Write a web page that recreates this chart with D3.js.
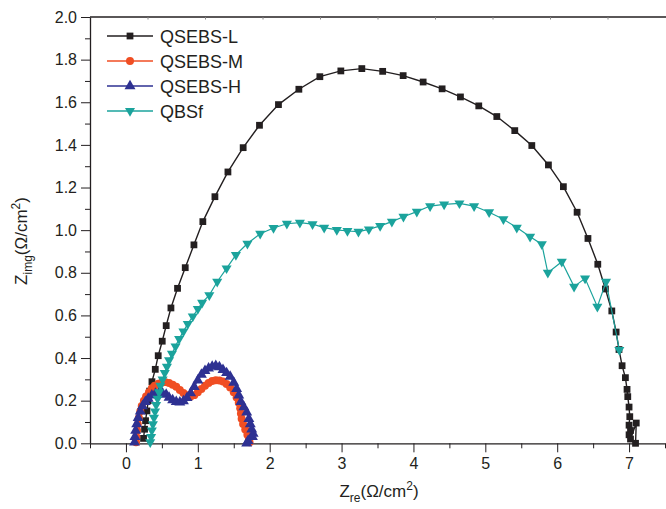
<!DOCTYPE html>
<html>
<head>
<meta charset="utf-8">
<script src="https://cdn.jsdelivr.net/npm/d3@7"></script>
<style>
    body { margin: 0; background: #fff; }
    svg { display: block; font-family: "Liberation Sans", Arial, sans-serif; }
</style>
</head>
<body>
<svg id="chart" width="666" height="509"></svg>
<script>
// series names / colours
const seriesNames = ["QSEBS-L", "QSEBS-M", "QSEBS-H", "QBSf"]
const seriesColors = ["#231f20", "#f04e23", "#2e3192", "#1ba39c"]

// values, [Zre, Zimg]
const qsebsL = [
    [0.245, 0.023], [0.259, 0.066], [0.273, 0.106], [0.292, 0.152], [0.31, 0.2], [0.33, 0.245],
    [0.362, 0.289], [0.408, 0.347], [0.449, 0.411], [0.505, 0.479], [0.56, 0.552], [0.626, 0.635],
    [0.718, 0.727], [0.825, 0.824], [0.946, 0.931], [1.07, 1.04], [1.238, 1.157], [1.419, 1.273],
    [1.631, 1.387], [1.858, 1.492], [2.122, 1.589], [2.406, 1.661], [2.698, 1.72], [2.99, 1.747],
    [3.282, 1.758], [3.572, 1.745], [3.857, 1.725], [4.135, 1.695], [4.399, 1.663], [4.654, 1.625],
    [4.909, 1.583], [5.16, 1.533], [5.41, 1.467], [5.647, 1.397], [5.878, 1.306], [6.086, 1.204],
    [6.277, 1.084], [6.428, 0.961], [6.565, 0.84], [6.671, 0.724], [6.76, 0.621], [6.82, 0.522],
    [6.86, 0.44], [6.903, 0.364], [6.949, 0.308], [6.972, 0.253], [6.982, 0.219], [7.0, 0.17],
    [7.01, 0.125], [7.0, 0.085], [7.02, 0.06], [7.0, 0.04], [7.02, 0.02], [7.1, 0.095], [7.09, 0.0]
]
const qsebsM = [
    [0.14, 0.005], [0.145, 0.03], [0.155, 0.06], [0.165, 0.09], [0.18, 0.12], [0.2, 0.15],
    [0.22, 0.175], [0.25, 0.2], [0.28, 0.22], [0.32, 0.24], [0.36, 0.258], [0.4, 0.27],
    [0.45, 0.28], [0.5, 0.285], [0.55, 0.287], [0.6, 0.283], [0.65, 0.275], [0.7, 0.265],
    [0.75, 0.25], [0.8, 0.236], [0.85, 0.225], [0.9, 0.22], [0.95, 0.226], [1.0, 0.24],
    [1.05, 0.255], [1.1, 0.27], [1.15, 0.283], [1.2, 0.292], [1.25, 0.296], [1.3, 0.295],
    [1.35, 0.29], [1.4, 0.278], [1.45, 0.262], [1.5, 0.24], [1.54, 0.215], [1.57, 0.19],
    [1.59, 0.165], [1.6, 0.14], [1.61, 0.115], [1.63, 0.09], [1.66, 0.065], [1.69, 0.04],
    [1.71, 0.02], [1.72, 0.005]
]
const qsebsH = [
    [0.12, 0.005], [0.125, 0.03], [0.135, 0.06], [0.15, 0.09], [0.17, 0.12], [0.2, 0.15],
    [0.23, 0.175], [0.27, 0.195], [0.31, 0.21], [0.36, 0.225], [0.41, 0.233], [0.46, 0.237],
    [0.51, 0.235], [0.56, 0.228], [0.6, 0.215], [0.65, 0.203], [0.7, 0.195], [0.75, 0.192],
    [0.8, 0.198], [0.85, 0.213], [0.9, 0.235], [0.95, 0.265], [1.0, 0.295], [1.05, 0.322],
    [1.1, 0.34], [1.15, 0.352], [1.2, 0.36], [1.25, 0.363], [1.3, 0.358], [1.35, 0.345],
    [1.4, 0.33], [1.45, 0.313], [1.5, 0.285], [1.54, 0.255], [1.57, 0.225], [1.6, 0.195],
    [1.64, 0.17], [1.68, 0.145], [1.71, 0.115], [1.73, 0.09], [1.75, 0.065], [1.77, 0.045],
    [1.76, 0.03], [1.7, 0.012], [1.68, 0.0]
]
const qbsf = [
    [0.338, 0.005], [0.35, 0.03], [0.36, 0.06], [0.375, 0.09], [0.39, 0.12], [0.405, 0.15],
    [0.42, 0.18], [0.44, 0.21], [0.46, 0.24], [0.48, 0.27], [0.51, 0.3], [0.54, 0.33],
    [0.57, 0.36], [0.6, 0.39], [0.64, 0.42], [0.69, 0.455], [0.74, 0.49], [0.8, 0.525],
    [0.86, 0.56], [0.93, 0.595], [1.0, 0.63], [1.06, 0.66], [1.16, 0.695], [1.27, 0.758],
    [1.4, 0.821], [1.53, 0.884], [1.69, 0.937], [1.868, 0.983], [2.053, 1.01], [2.239, 1.03],
    [2.42, 1.035], [2.596, 1.028], [2.758, 1.012], [2.934, 1.001], [3.082, 0.996], [3.235, 0.993],
    [3.38, 1.004], [3.537, 1.02], [3.7, 1.04], [3.861, 1.063], [4.047, 1.087], [4.232, 1.113],
    [4.427, 1.121], [4.64, 1.126], [4.844, 1.113], [5.053, 1.084], [5.252, 1.051], [5.438, 1.012],
    [5.623, 0.969], [5.786, 0.934], [5.87, 0.8], [6.064, 0.852], [6.235, 0.735], [6.388, 0.774],
    [6.559, 0.641], [6.68, 0.758], [6.865, 0.438]
]
const allSeries = [qsebsL, qsebsM, qsebsH, qbsf]

// ticks
const xTicks = [0, 1, 2, 3, 4, 5, 6, 7]
const yTicks = [0.0, 0.2, 0.4, 0.6, 0.8, 1.0, 1.2, 1.4, 1.6, 1.8, 2.0]

const svg = d3.select("#chart")

const x = d3.scaleLinear().domain([-0.5, 7.5]).range([90, 665])
const y = d3.scaleLinear().domain([0, 2]).range([443.3, 17])

// bottom axis
const xAxis = d3.axisBottom(x).tickValues(xTicks).tickSize(9).tickSizeOuter(0).tickPadding(5)
    .tickFormat(d3.format("d"))
const gx = svg.append("g").attr("transform", "translate(0,443.3)").call(xAxis)
gx.selectAll(".tick line").attr("stroke", "#231f20")
gx.select(".domain").attr("stroke", "#231f20").attr("stroke-width", 1.3)
gx.selectAll("text").attr("font-size", 16).attr("fill", "#231f20")
svg.append("g").attr("transform", "translate(0,443.3)")
    .call(d3.axisBottom(x).tickValues(d3.range(-0.5, 7.6, 0.5).filter(v => Math.abs(v % 1) > 0.1)).tickSize(5).tickFormat(""))
    .call(g => g.select(".domain").remove())
    .selectAll("line").attr("stroke", "#231f20")

// left axis
const yAxis = d3.axisLeft(y).tickValues(yTicks).tickSize(9).tickSizeOuter(0).tickPadding(4)
    .tickFormat(d3.format(".1f"))
const gy = svg.append("g").attr("transform", "translate(90,0)").call(yAxis)
gy.selectAll(".tick line").attr("stroke", "#231f20")
gy.select(".domain").attr("stroke", "#231f20").attr("stroke-width", 1.3)
gy.selectAll("text").attr("font-size", 16).attr("fill", "#231f20")
svg.append("g").attr("transform", "translate(90,0)")
    .call(d3.axisLeft(y).tickValues(d3.range(0.1, 2, 0.2)).tickSize(5).tickFormat(""))
    .call(g => g.select(".domain").remove())
    .selectAll("line").attr("stroke", "#231f20")

// top frame line with its small ticks
svg.append("line").attr("x1", 90).attr("x2", 666).attr("y1", 17).attr("y2", 17)
    .attr("stroke", "#231f20").attr("stroke-width", 1.3)
svg.append("g").selectAll("line").data(d3.range(0, 9)).enter().append("line")
    .attr("x1", k => 148 + 57.5 * k).attr("x2", k => 148 + 57.5 * k)
    .attr("y1", 17).attr("y2", 19.5).attr("stroke", "#888")

// axis titles
svg.append("text").attr("x", 379).attr("y", 497).attr("text-anchor", "middle")
    .attr("font-size", 17).attr("fill", "#231f20")
    .html('Z<tspan font-size="12" dy="5">re</tspan><tspan dy="-5">(Ω/cm</tspan><tspan font-size="12" dy="-7">2</tspan><tspan dy="7">)</tspan>')
svg.append("text").attr("transform", "translate(27,241) rotate(-90)").attr("text-anchor", "middle")
    .attr("font-size", 17).attr("fill", "#231f20")
    .html('Z<tspan font-size="12" dy="5">img</tspan><tspan dy="-5">(Ω/cm</tspan><tspan font-size="12" dy="-7">2</tspan><tspan dy="7">)</tspan>')

// marker shapes
const symbols = [
    d3.symbol().type(d3.symbolSquare).size(46),
    d3.symbol().type(d3.symbolCircle).size(50),
    d3.symbol().type(d3.symbolTriangle).size(52),
    d3.symbol().type(d3.symbolTriangle).size(44)
]
const rot = [0, 0, 0, 180]

const line = d3.line().x(d => x(d[0])).y(d => y(d[1]))

// draw each series
allSeries.forEach((data, i) => {
    var g = svg.append("g")
    g.append("path").datum(data).attr("d", line)
        .attr("fill", "none").attr("stroke", seriesColors[i]).attr("stroke-width", i == 0 ? 1.4 : 1.2)
    g.selectAll("path.pt").data(data).enter().append("path").attr("class", "pt")
        .attr("d", symbols[i])
        .attr("transform", d => "translate(" + x(d[0]) + "," + y(d[1]) + ") rotate(" + rot[i] + ")")
        .attr("fill", seriesColors[i])
})

// legend
const legendY = [36, 61, 86, 111]
seriesNames.forEach((name, i) => {
    var g = svg.append("g").attr("transform", "translate(0," + legendY[i] + ")")
    g.append("line").attr("x1", 107).attr("x2", 153).attr("stroke", seriesColors[i]).attr("stroke-width", 1.4)
    g.append("path").attr("d", symbols[i]).attr("transform", "translate(130,0) rotate(" + rot[i] + ")")
        .attr("fill", seriesColors[i])
    g.append("text").attr("x", 160).attr("y", 6.5).attr("font-size", 18).attr("fill", "#231f20").text(name)
})
</script>
</body>
</html>
